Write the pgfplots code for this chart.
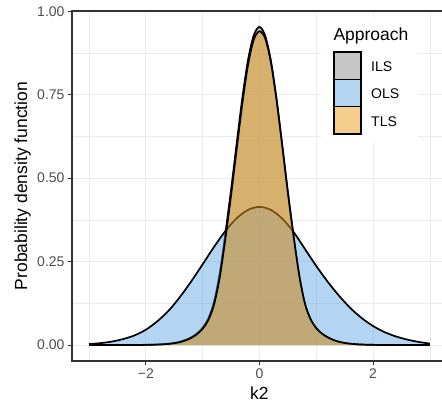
\documentclass[border=0pt]{standalone}
\usepackage{pgfplots}
\usepackage{pgfplotstable}
\usepackage{fontspec}
\setmainfont{Liberation Sans}
\pgfplotsset{compat=1.18}

\definecolor{ilsc}{RGB}{141,141,141}
\definecolor{olsc}{RGB}{103,171,227}
\definecolor{tlsc}{RGB}{235,155,25}
\definecolor{gridc}{RGB}{235,235,235}
\definecolor{axc}{RGB}{51,51,51}
\definecolor{tickc}{RGB}{77,77,77}

% density estimates
\pgfplotstableread{
x y
-3.0 0.0030
-2.8 0.0058
-2.6 0.0105
-2.4 0.0180
-2.2 0.0290
-2.0 0.0460
-1.8 0.0710
-1.6 0.1030
-1.4 0.1440
-1.2 0.1910
-1.0 0.2420
-0.8 0.2940
-0.6 0.3415
-0.4 0.3800
-0.2 0.4050
0.0 0.4140
0.2 0.4050
0.4 0.3790
0.6 0.3390
0.8 0.2880
1.0 0.2370
1.2 0.1900
1.4 0.1480
1.6 0.1110
1.8 0.0810
2.0 0.0570
2.2 0.0390
2.4 0.0260
2.6 0.0165
2.8 0.0095
3.0 0.0045
}\olsdata

\pgfplotstableread{
x y
-3.0 0.0000
-2.6 0.0001
-2.3 0.0003
-2.0 0.0008
-1.8 0.0018
-1.7 0.0028
-1.6 0.0042
-1.5 0.0065
-1.4 0.0100
-1.3 0.0155
-1.2 0.0235
-1.1 0.0350
-1.0 0.0520
-0.9 0.0800
-0.8 0.1300
-0.7 0.2150
-0.6 0.3350
-0.5 0.4650
-0.4 0.6050
-0.3 0.7420
-0.2 0.8550
-0.1 0.9280
0.0 0.9530
0.1 0.9270
0.2 0.8530
0.3 0.7380
0.4 0.6000
0.5 0.4580
0.6 0.3270
0.7 0.2080
0.8 0.1230
0.9 0.0760
1.0 0.0500
1.1 0.0340
1.2 0.0230
1.3 0.0150
1.4 0.0095
1.5 0.0060
1.6 0.0038
1.7 0.0025
1.8 0.0016
2.0 0.0007
2.3 0.0002
2.6 0.0001
3.0 0.0000
}\ilsdata

\pgfplotstableread{
x y
-3.0 0.0000
-2.6 0.0001
-2.3 0.0002
-2.0 0.0006
-1.8 0.0014
-1.7 0.0022
-1.6 0.0034
-1.5 0.0055
-1.4 0.0088
-1.3 0.0140
-1.2 0.0215
-1.1 0.0325
-1.0 0.0490
-0.9 0.0750
-0.8 0.1210
-0.7 0.2020
-0.6 0.3180
-0.5 0.4480
-0.4 0.5880
-0.3 0.7250
-0.2 0.8400
-0.1 0.9150
0.0 0.9400
0.1 0.9190
0.2 0.8480
0.3 0.7350
0.4 0.5990
0.5 0.4580
0.6 0.3280
0.7 0.2100
0.8 0.1250
0.9 0.0780
1.0 0.0510
1.1 0.0345
1.2 0.0235
1.3 0.0155
1.4 0.0100
1.5 0.0064
1.6 0.0040
1.7 0.0026
1.8 0.0017
2.0 0.0007
2.3 0.0002
2.6 0.0001
3.0 0.0000
}\tlsdata

\begin{document}
\begin{tikzpicture}
\begin{axis}[
  at={(0,0)}, anchor=south west,
  scale only axis,
  width=374.9bp, height=350bp,
  xmin=-3.3, xmax=3.3,
  ymin=-0.0477, ymax=1.0007,
  xtick={-2,0,2}, xticklabels={−2,0,2},
  ytick={0,0.25,0.5,0.75,1}, yticklabels={0.00,0.25,0.50,0.75,1.00},
  minor xtick={-3,-1,1,3},
  minor ytick={0.125,0.375,0.625,0.875},
  grid=both,
  major grid style={draw=gridc, line width=1.1bp},
  minor grid style={draw=gridc, line width=0.55bp},
  minor tick length=0pt,
  tick align=outside, major tick length=4bp,
  tick pos=left,
  tick style={draw=axc, line width=1bp},
  axis line style={draw=axc, line width=1.1bp},
  ticklabel style={font=\fontsize{14bp}{16bp}\selectfont, text=tickc},
  xlabel={k2}, ylabel={Probability density function},
  label style={font=\fontsize{17.5bp}{20bp}\selectfont, text=black, inner sep=0pt},
  xlabel style={at={(axis description cs:0.5,-0.1114)}, anchor=base},
  ylabel style={at={(axis description cs:-0.1200,0.5)}, anchor=base},
]
% ILS
\addplot[draw=none, fill=ilsc, fill opacity=0.5, smooth] table {\ilsdata} \closedcycle;
\addplot[black, line width=1.7bp, smooth] table {\ilsdata};
% OLS
\addplot[draw=none, fill=olsc, fill opacity=0.5, smooth] table {\olsdata} \closedcycle;
\addplot[black, line width=1.7bp, smooth] table {\olsdata};
% TLS
\addplot[draw=none, fill=tlsc, fill opacity=0.5, smooth] table {\tlsdata} \closedcycle;
\addplot[black, line width=1.7bp, smooth] table {\tlsdata};
\end{axis}

% legend
\fill[white] (249bp,219bp) rectangle (346bp,343bp);
\node[anchor=base west, inner sep=0pt, font=\fontsize{17.5bp}{20bp}\selectfont] at (261.3bp,320bp) {Approach};
\draw[fill=ilsc!50!white, line width=1.6bp] (262bp,308.7bp) rectangle (288.7bp,281.5bp);
\draw[fill=olsc!50!white, line width=1.6bp] (262bp,281.5bp) rectangle (288.7bp,254.3bp);
\draw[fill=tlsc!50!white, line width=1.6bp] (262bp,254.3bp) rectangle (288.7bp,227bp);
\begin{scope}[every node/.style={anchor=west, inner sep=0pt, font=\fontsize{14bp}{16bp}\selectfont}]
\node at (299bp,294.1bp) {ILS};
\node at (299bp,266.9bp) {OLS};
\node at (299bp,239.6bp) {TLS};
\end{scope}

\pgfresetboundingbox
\path (-72bp,-42bp) rectangle (370bp,361bp);
\end{tikzpicture}
\end{document}
